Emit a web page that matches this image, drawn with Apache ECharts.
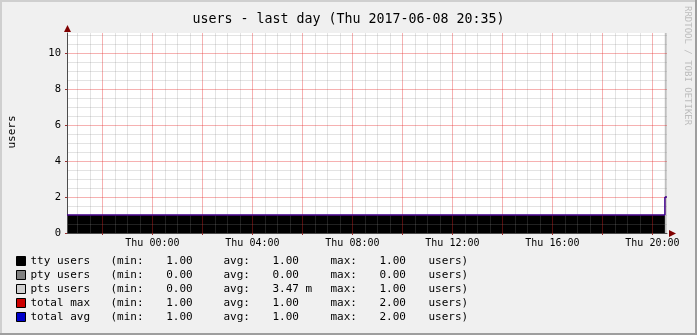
<!DOCTYPE html>
<html><head><meta charset="utf-8">
<script src="https://cdn.jsdelivr.net/npm/echarts@6/dist/echarts.min.js"></script>
<style>html,body{margin:0;padding:0;background:#f0f0f0}#c{width:697px;height:335px}</style>
</head><body><div id="c"></div><script>
// ---- data ----
const titleText = 'users - last day (Thu 2017-06-08 20:35)';
const yAxisTitle = 'users';
const watermark = 'RRDTOOL / TOBI OETIKER';
const xStartHour = -3.4167;   // Wed 20:35 (hours relative to Thu 00:00)
const xEndHour = 20.5833;     // Thu 20:35
const xLabelHours = [0, 4, 8, 12, 16, 20];
const xLabels = ['Thu 00:00', 'Thu 04:00', 'Thu 08:00', 'Thu 12:00', 'Thu 16:00', 'Thu 20:00'];
const xMajorHours = [-2, 0, 2, 4, 6, 8, 10, 12, 14, 16, 18, 20];
const yLabelValues = [0, 2, 4, 6, 8, 10];
const yMax = 11.11;
const sampleHours = [-3.4167, 20.5, 20.5833];
const ttyUsers = [1, 1, 1];
const ptyUsers = [0, 0, 0];
const ptsUsers = [0, 1, 1];
const totalMax = [1, 2, 2];
const totalAvg = [1, 2, 2];
const seriesNames = ['tty users', 'pty users', 'pts users', 'total max', 'total avg'];
const minValues = ['1.00', '0.00', '0.00', '1.00', '1.00'];
const avgValues = ['1.00', '0.00', '3.47 m', '1.00', '1.00'];
const maxValues = ['1.00', '0.00', '1.00', '2.00', '2.00'];
const unitLabel = 'users)';

// ---- chart ----
const MONO = 'DejaVu Sans Mono';
const minorX = []; for (let h = -3; h <= 20.5; h += 0.5) if (h % 2 !== 0) minorX.push(h);
const minorY = []; for (let v = 0.5; v <= 11; v += 0.5) if (v % 2 !== 0) minorY.push(v);
const pairs = arr => sampleHours.map((t, i) => [t, arr[i]]);
const colors = ['#000000', '#808080', '#d0d0d0', '#cc0000', '#0000cc'];
const seriesData = [ttyUsers, ptyUsers, ptsUsers, totalMax, totalAvg];

const series = seriesNames.map((name, i) => {
  const isArea = i < 3;
  return {
    name, type: 'line', step: 'end', data: pairs(seriesData[i]),
    symbol: 'none', animation: false, color: colors[i],
    stack: isArea ? 'users' : undefined,
    areaStyle: isArea ? { color: colors[i], opacity: 1 } : undefined,
    lineStyle: isArea ? { width: 0 } : { width: 1, color: colors[i] },
    z: isArea ? 2 : 6
  };
});

const chart = echarts.init(document.getElementById('c'), null, { renderer: 'canvas' });
const redGrid = 'rgba(230,40,40,0.36)';
const grayGrid = 'rgba(140,140,140,0.24)';
chart.setOption({
  animation: false,
  backgroundColor: '#f0f0f0',
  title: { text: titleText, left: 'center', top: 8,
    textStyle: { fontFamily: MONO, fontSize: 13.3, fontWeight: 'normal', color: '#000' } },
  grid: { left: 67, right: 30, top: 33, bottom: 102, containLabel: false,
    show: true, backgroundColor: '#ffffff', borderWidth: 0 },
  xAxis: [
    { type: 'value', min: xStartHour, max: xEndHour, z: 4,
      axisLine: { show: true, onZero: false, lineStyle: { color: '#4d4d4d', width: 1 } },
      axisTick: { show: true, customValues: xMajorHours, length: 2, lineStyle: { color: '#9a3030' } },
      axisLabel: { customValues: xLabelHours, margin: 5, fontFamily: MONO, fontSize: 10, color: '#000',
        formatter: v => { const k = xLabelHours.findIndex(h => Math.abs(h - v) < 1e-6); return k >= 0 ? xLabels[k] : ''; } },
      splitLine: { show: true, lineStyle: { color: redGrid, width: 1 } } },
    { type: 'value', min: xStartHour, max: xEndHour, z: 3, position: 'bottom',
      axisLine: { show: false, onZero: false }, axisLabel: { show: false },
      axisTick: { show: false, customValues: minorX },
      splitLine: { show: true, lineStyle: { color: grayGrid, width: 1 } } }
  ],
  yAxis: [
    { type: 'value', min: 0, max: yMax, z: 4,
      axisLine: { show: true, onZero: false, lineStyle: { color: '#4d4d4d', width: 1 } },
      axisTick: { show: true, customValues: yLabelValues, length: 2, lineStyle: { color: '#9a3030' } },
      axisLabel: { customValues: yLabelValues, margin: 6, fontFamily: MONO, fontSize: 10.5, color: '#000' },
      splitLine: { show: true, lineStyle: { color: redGrid, width: 1 } } },
    { type: 'value', min: 0, max: yMax, z: 3, position: 'left',
      axisLine: { show: false, onZero: false }, axisLabel: { show: false },
      axisTick: { show: false, customValues: minorY },
      splitLine: { show: true, lineStyle: { color: grayGrid, width: 1 } } }
  ],
  legend: {
    orient: 'vertical', left: 16, top: 254, padding: 0, itemGap: 0,
    itemWidth: 9, itemHeight: 9, icon: 'rect', selectedMode: false,
    itemStyle: { borderColor: '#000', borderWidth: 1 },
    data: seriesNames.map((n, i) => ({ name: n, itemStyle: { color: colors[i], borderColor: '#000', borderWidth: 1 } })),
    textStyle: { fontFamily: MONO, fontSize: 11, color: '#000', lineHeight: 14,
      rich: {
        n: { width: 80, fontFamily: MONO, fontSize: 11 },
        a: { width: 55.7, fontFamily: MONO, fontSize: 11 },
        v1: { width: 57.3, fontFamily: MONO, fontSize: 11 },
        b: { width: 49, fontFamily: MONO, fontSize: 11 },
        v2: { width: 58, fontFamily: MONO, fontSize: 11 },
        c: { width: 49, fontFamily: MONO, fontSize: 11 },
        v3: { width: 49, fontFamily: MONO, fontSize: 11 },
        u: { fontFamily: MONO, fontSize: 11 }
      } },
    formatter: name => {
      const i = seriesNames.indexOf(name);
      return `{n|${name}}{a|(min:}{v1|${minValues[i]}}{b|avg:}{v2|${avgValues[i]}}{c|max:}{v3|${maxValues[i]}}{u|${unitLabel}}`;
    }
  },
  series
});

function decorate() {
  const p0 = chart.convertToPixel({ gridIndex: 0 }, [xStartHour, 0]);
  const p1 = chart.convertToPixel({ gridIndex: 0 }, [xEndHour, yMax]);
  const ax = Math.round(p0[0]) + 0.5, ay = Math.round(p0[1]) + 0.5;
  const topY = p1[1], rightX = p1[0];
  chart.setOption({ graphic: [
    { type: 'polygon', z: 100, shape: { points: [[ax - 3.5, topY - 1], [ax + 3.5, topY - 1], [ax, topY - 8]] }, style: { fill: '#800000' } },
    { type: 'polygon', z: 100, shape: { points: [[rightX + 2, ay - 3.5], [rightX + 2, ay + 3.5], [rightX + 9, ay]] }, style: { fill: '#800000' } },
    { type: 'text', z: 100, x: 12, y: 132, rotation: Math.PI / 2,
      style: { text: yAxisTitle, fontFamily: MONO, fontSize: 11, fill: '#000', align: 'center', verticalAlign: 'middle' } },
    { type: 'text', z: 100, x: 687, y: 6, rotation: -Math.PI / 2,
      style: { text: watermark, fontFamily: MONO, fontSize: 9, fill: '#bdbdbd', align: 'left', verticalAlign: 'middle' } },
    { type: 'rect', z: 100, shape: { x: 0, y: 0, width: 697, height: 2 }, style: { fill: '#cfcfcf' } },
    { type: 'rect', z: 100, shape: { x: 0, y: 0, width: 2, height: 335 }, style: { fill: '#cfcfcf' } },
    { type: 'rect', z: 100, shape: { x: 0, y: 333, width: 697, height: 2 }, style: { fill: '#9e9e9e' } },
    { type: 'rect', z: 100, shape: { x: 695, y: 0, width: 2, height: 335 }, style: { fill: '#9e9e9e' } }
  ] });
}
decorate();
</script></body></html>
